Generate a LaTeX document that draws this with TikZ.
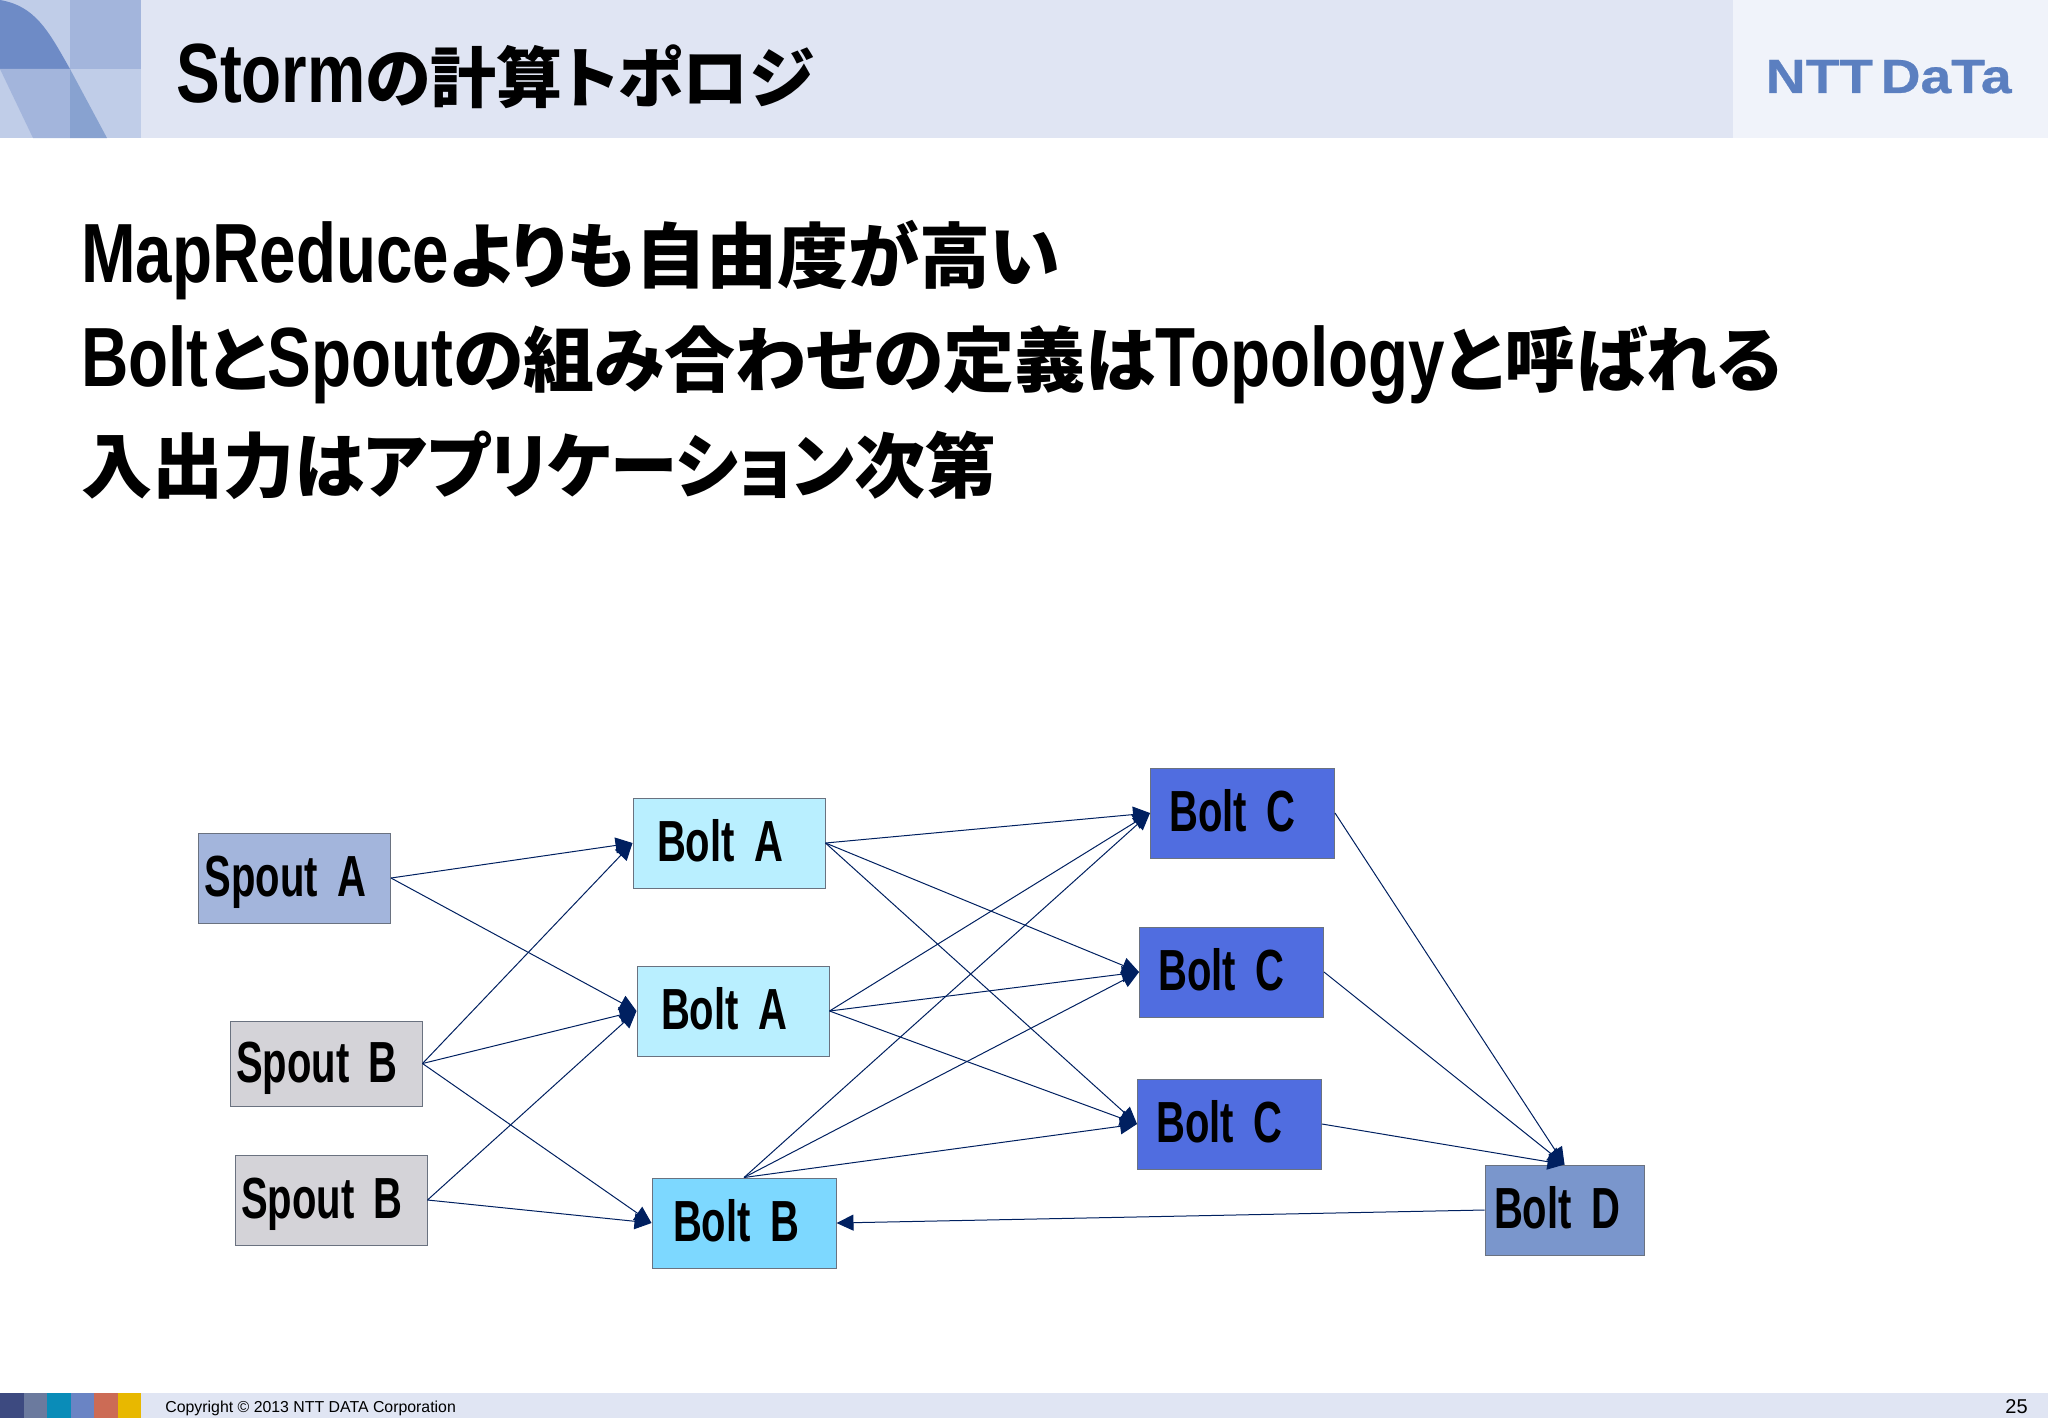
\documentclass[tikz,border=0pt]{standalone}
\usepackage{fontspec}
\usetikzlibrary{arrows.meta}
\setmainfont{Liberation Sans}
\newfontfamily\enfont{Liberation Sans}[FakeStretch=0.78]
\newfontfamily\labelfont{Liberation Sans}[FakeStretch=0.69,WordSpace=1.9]
\newfontfamily\logofont{Liberation Sans}[FakeStretch=1.15,WordSpace=0.5,FakeBold=0.6]
\newfontfamily\jpfont{Noto Sans CJK JP}[RawFeature=+palt]
\newfontfamily\jpnarrow{Noto Sans CJK JP}[RawFeature=+palt,FakeStretch=0.95]
\newcommand{\en}[1]{{\enfont\bfseries\fontsize{42}{42}\selectfont #1}}
\definecolor{bandblue}{HTML}{E0E5F3}
\definecolor{logoband}{HTML}{F0F3FA}
\definecolor{logoblue}{HTML}{5B7FC0}
\definecolor{cornerlight}{HTML}{C0CDE8}
\definecolor{cornermid}{HTML}{A3B5DC}
\definecolor{cornerdeep}{HTML}{88A2D0}
\definecolor{cornerdark}{HTML}{6E8BC6}
\definecolor{spouta}{HTML}{A3B5DC}
\definecolor{spoutb}{HTML}{D4D3D8}
\definecolor{bolta}{HTML}{B9EFFF}
\definecolor{boltb}{HTML}{7DD8FF}
\definecolor{boltc}{HTML}{506DE0}
\definecolor{boltd}{HTML}{7A96CC}
\definecolor{boxline}{HTML}{6A7280}
\definecolor{flowline}{HTML}{002060}
\tikzset{
	tbox/.style={draw=boxline, line width=0.5pt, rectangle, minimum height=45pt, align=left, text height=21pt, text depth=2.5pt, font=\labelfont\bfseries\fontsize{29}{29}\selectfont},
	spoutbox/.style={tbox, text width=90pt, inner xsep=3pt},
	boltabox/.style={tbox, text width=72pt, inner xsep=12pt, fill=bolta},
	boltbbox/.style={tbox, text width=71pt, inner xsep=10.5pt, fill=boltb},
	boltcbox/.style={tbox, text width=73pt, inner xsep=9.5pt, fill=boltc},
	boltdbox/.style={tbox, text width=70.5pt, inner xsep=4.5pt, fill=boltd},
	flow/.style={draw=flowline, line width=0.5pt, -{Triangle[length=8.5pt,width=8pt]}},
	heading/.style={anchor=base west, inner sep=0pt, font=\jpfont\bfseries\fontsize{33}{33}\selectfont},
	bodyline/.style={anchor=base west, inner sep=0pt, font=\jpfont\bfseries\fontsize{35.5}{36}\selectfont}
}
\begin{document}
\begin{tikzpicture}[x=0.5pt,y=-0.5pt]
	\useasboundingbox (0,0) rectangle (2048,1418);
	% header and footer bands
	\fill [bandblue] (0,0) rectangle (1733,138);
	\fill [logoband] (1733,0) rectangle (2048,138);
	\fill [bandblue] (0,1393) rectangle (2048,1418);
	% corner pattern
	\fill [cornerlight] (0,0) rectangle (141,138);
	\fill [cornermid] (70,0) rectangle (141,69);
	\fill [cornerdark] (0,0) .. controls (35,6) and (48,30) .. (70,69) -- (0,69) -- cycle;
	\fill [cornermid] (0,69) -- (70,69) -- (70,138) -- (33,138) -- cycle;
	\fill [cornerdeep] (70,69) -- (107,138) -- (70,138) -- cycle;
	% footer swatches
	\fill [fill={rgb,255:red,61;green,74;blue,128}] (0,1393) rectangle (24,1418);
	\fill [fill={rgb,255:red,107;green,122;blue,158}] (24,1393) rectangle (47,1418);
	\fill [fill={rgb,255:red,10;green,140;blue,184}] (47,1393) rectangle (71,1418);
	\fill [fill={rgb,255:red,106;green,132;blue,196}] (71,1393) rectangle (94,1418);
	\fill [fill={rgb,255:red,204;green,107;blue,85}] (94,1393) rectangle (118,1418);
	\fill [fill={rgb,255:red,232;green,184;blue,0}] (118,1393) rectangle (141,1418);
	% texts
	\node [heading] (title) at (176,103) {\en{Storm}の計算トポロジ};
	\node [anchor=base east, inner sep=0pt, text=logoblue, font=\logofont\bfseries\fontsize{24}{24}\selectfont] (logo) at (2012,93) {NTT DaTa};
	\node [bodyline] (lineone) at (81,282) {\en{MapReduce}よりも自由度が高い};
	\node [bodyline] (linetwo) at (81,386) {\en{Bolt}と\en{Spout}の組み合わせの定義は\en{Topology}と呼ばれる};
	\node [bodyline] (linethree) at (81,492) {入出力は{\jpnarrow\bfseries\fontsize{35.5}{36}\selectfont アプリケーション}次第};
	\node [anchor=base west, inner sep=0pt, font=\fontsize{7.93}{8}\selectfont] (copyright) at (165,1412) {Copyright © 2013 NTT DATA Corporation};
	\node [anchor=base east, inner sep=0pt, font=\fontsize{10}{10}\selectfont] (pagenum) at (2028,1413) {25};
	% boxes
	\node [spoutbox, fill=spouta] (spouta) at (294.5,878) {Spout A};
	\node [spoutbox, fill=spoutb, minimum height=42.5pt] (spoutbone) at (326,1063.5) {Spout B};
	\node [spoutbox, fill=spoutb] (spoutbtwo) at (331,1200) {Spout B};
	\node [boltabox] (boltaone) at (729,843) {Bolt A};
	\node [boltabox] (boltatwo) at (733,1011) {Bolt A};
	\node [boltbbox] (boltb) at (744,1223) {Bolt B};
	\node [boltcbox] (boltcone) at (1242.5,813) {Bolt C};
	\node [boltcbox] (boltctwo) at (1231.5,972) {Bolt C};
	\node [boltcbox] (boltcthree) at (1229.5,1124) {Bolt C};
	\node [boltdbox] (boltd) at (1564.5,1210) {Bolt D};
	% connectors
	\draw [flow] (spouta.east) -- (boltaone.west);
	\draw [flow] (spouta.east) -- (boltatwo.west);
	\draw [flow] (spoutbone.east) -- (boltaone.west);
	\draw [flow] (spoutbone.east) -- (boltatwo.west);
	\draw [flow] (spoutbone.east) -- (boltb.west);
	\draw [flow] (spoutbtwo.east) -- (boltatwo.west);
	\draw [flow] (spoutbtwo.east) -- (boltb.west);
	\draw [flow] (boltaone.east) -- (boltcone.west);
	\draw [flow] (boltaone.east) -- (boltctwo.west);
	\draw [flow] (boltaone.east) -- (boltcthree.west);
	\draw [flow] (boltatwo.east) -- (boltcone.west);
	\draw [flow] (boltatwo.east) -- (boltctwo.west);
	\draw [flow] (boltatwo.east) -- (boltcthree.west);
	\draw [flow] (boltb.north) -- (boltcone.west);
	\draw [flow] (boltb.north) -- (boltctwo.west);
	\draw [flow] (boltb.north) -- (boltcthree.west);
	\draw [flow] (boltcone.east) -- (boltd.north);
	\draw [flow] (boltctwo.east) -- (boltd.north);
	\draw [flow] (boltcthree.east) -- (boltd.north);
	\draw [flow] (boltd.west) -- (boltb.east);
\end{tikzpicture}
\end{document}
